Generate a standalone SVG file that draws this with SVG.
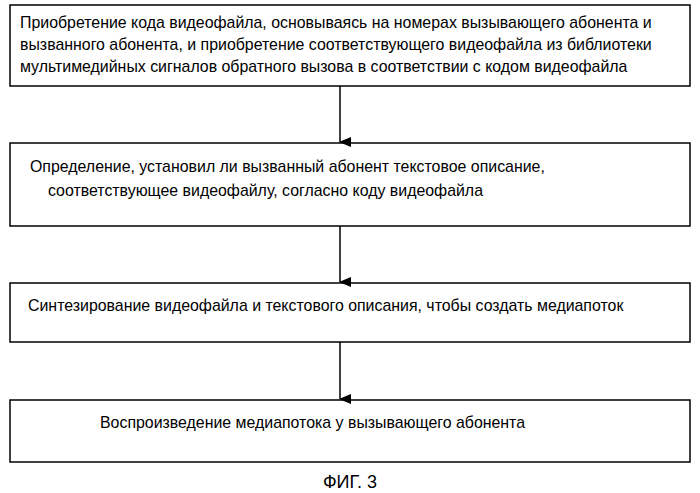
<svg xmlns="http://www.w3.org/2000/svg" width="700" height="493" viewBox="0 0 700 493">
<style>
.b{fill:#fff;stroke:#000;stroke-width:1.5}
.t{font-family:"Liberation Sans",Arial,sans-serif;font-size:15.9px;fill:#000}
.c{stroke:#000;stroke-width:1.5;fill:none}
</style>
<defs><marker id="a" markerWidth="10" markerHeight="12" refX="5" refY="11" orient="auto" markerUnits="userSpaceOnUse"><path d="M0,0 L10,0 L5,12 Z" fill="#000"/></marker></defs>
<rect width="700" height="493" fill="#fff"/>
<g id="n1"><rect class="b" x="10" y="5" width="680" height="81"/>
<text class="t" x="20" y="28">Приобретение кода видеофайла, основываясь на номерах вызывающего абонента и</text>
<text class="t" x="20" y="50">вызванного абонента, и приобретение соответствующего видеофайла из библиотеки</text>
<text class="t" x="20" y="72">мультимедийных сигналов обратного вызова в соответствии с кодом видеофайла</text></g>
<g id="n2"><rect class="b" x="10" y="143" width="680" height="83"/>
<text class="t" x="30" y="172">Определение, установил ли вызванный абонент текстовое описание,</text>
<text class="t" x="48" y="196">соответствующее видеофайлу, согласно  коду видеофайла</text></g>
<g id="n3"><rect class="b" x="10" y="283" width="680" height="59"/>
<text class="t" x="28" y="311">Синтезирование видеофайла и текстового описания, чтобы создать медиапоток</text></g>
<g id="n4"><rect class="b" x="10" y="400" width="680" height="62"/>
<text class="t" x="100" y="428">Воспроизведение медиапотока у вызывающего абонента</text></g>
<g id="edges">
<line class="c" x1="340" y1="86" x2="340" y2="142" marker-end="url(#a)"/>
<line class="c" x1="340" y1="226" x2="340" y2="282" marker-end="url(#a)"/>
<line class="c" x1="340" y1="342" x2="340" y2="399" marker-end="url(#a)"/>
</g>
<text class="t" x="350" y="488" text-anchor="middle" style="font-size:18px">ФИГ. 3</text>
</svg>
